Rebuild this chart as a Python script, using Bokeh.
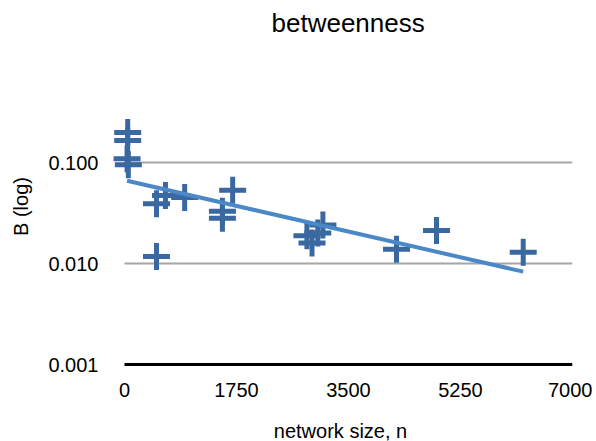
from bokeh.plotting import figure
from bokeh.models import FixedTicker, PrintfTickFormatter, Range1d
from bokeh.embed import file_html
from bokeh.resources import INLINE

# data
net_size = [50, 50, 40, 60, 500, 640, 940, 500, 1530, 1530, 1690,
            2850, 2930, 3020, 3100, 4250, 4875, 6230]
betweenness = [0.198, 0.165, 0.109, 0.095, 0.039, 0.047, 0.045, 0.0117,
               0.033, 0.028, 0.053, 0.0188, 0.016, 0.020, 0.024,
               0.0138, 0.0212, 0.0129]
trend_x = [40, 6230]
trend_y = [0.066, 0.0083]
x_ticks = [0, 1750, 3500, 5250, 7000]
y_ticks = [0.001, 0.01, 0.1]
grid_values = [0.01, 0.1]
title_text = "betweenness"

FONT = "Liberation Sans"

p = figure(y_axis_type="log",
           x_range=Range1d(-250, 7000),
           y_range=Range1d(10 ** (-3 - 2 / 101), 10 ** (15 / 101)),
           output_backend="svg", toolbar_location=None,
           frame_width=464, frame_height=320,
           min_border_left=108, min_border_top=0,
           min_border_right=20, min_border_bottom=0,
           title=title_text)
p.outline_line_color = None
p.background_fill_color = "white"
p.border_fill_color = "white"

p.title.text_font = FONT
p.title.text_font_size = "26px"
p.title.text_font_style = "normal"
p.title.text_color = "black"
p.title.align = "left"
p.title.vertical_align = "top"
p.title.offset = 163
p.title.standoff = 14

# axes
p.xaxis.ticker = FixedTicker(ticks=x_ticks)
p.yaxis.ticker = FixedTicker(ticks=y_ticks)
p.yaxis.formatter = PrintfTickFormatter(format="%.3f")
for ax in (p.xaxis[0], p.yaxis[0]):
    ax.major_tick_line_color = None
    ax.minor_tick_line_color = None
    ax.major_tick_out = 0
    ax.major_tick_in = 0
    ax.minor_tick_out = 0
    ax.minor_tick_in = 0
    ax.axis_line_color = None
    ax.major_label_text_font = FONT
    ax.major_label_text_font_size = "20px"
    ax.major_label_text_color = "black"
    ax.axis_label_text_font = FONT
    ax.axis_label_text_font_size = "20px"
    ax.axis_label_text_font_style = "normal"
    ax.axis_label_text_color = "black"
p.xaxis.major_label_standoff = 16
p.yaxis.major_label_standoff = 10
p.xaxis.axis_label = "network size, n"
p.yaxis.axis_label = "B (log)"
p.xaxis.axis_label_standoff = 20
p.yaxis.axis_label_standoff = 13

p.xgrid.grid_line_color = None
p.ygrid.grid_line_color = None

# gridlines and baseline spanning the x tick range
p.segment(x0=[x_ticks[0]] * len(grid_values), y0=grid_values,
          x1=[x_ticks[-1]] * len(grid_values), y1=grid_values,
          line_color="#a6a6a6", line_width=2)
p.segment(x0=[x_ticks[0]], y0=[y_ticks[0]], x1=[x_ticks[-1]], y1=[y_ticks[0]],
          line_color="black", line_width=3)

# markers
p.scatter(net_size, betweenness, marker="cross", size=27,
          line_color="#3a68a0", line_width=5)
# trendline
p.line(trend_x, trend_y, line_color="#4a88c8", line_width=4)

open("out.html", "w").write(file_html(p, INLINE))
